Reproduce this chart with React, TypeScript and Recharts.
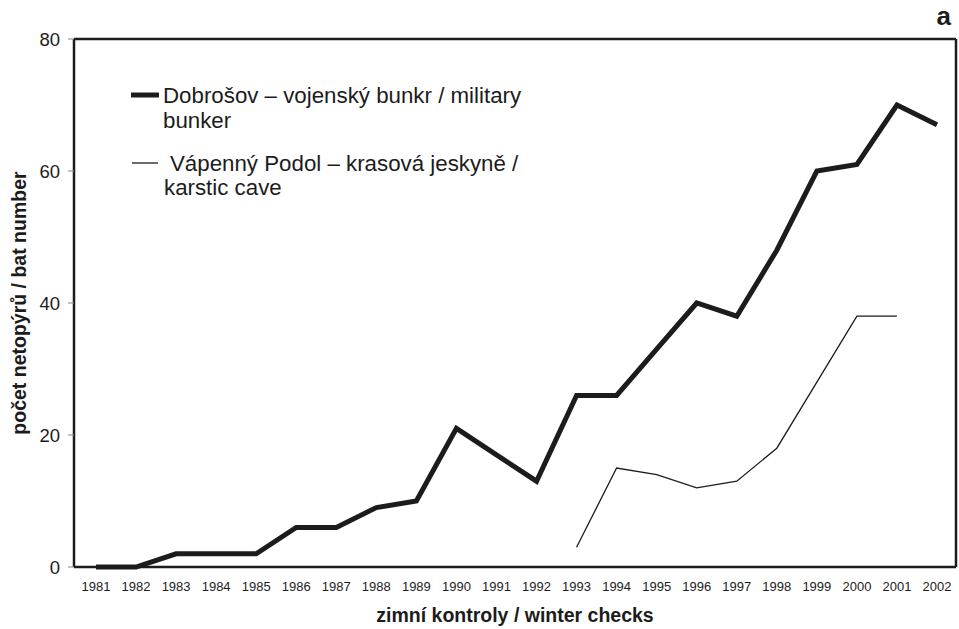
import React from 'react';
import { LineChart, Line, XAxis, YAxis } from 'recharts';

const years = ['1981','1982','1983','1984','1985','1986','1987','1988','1989','1990','1991','1992','1993','1994','1995','1996','1997','1998','1999','2000','2001','2002'];
const dobrosov = [0, 0, 2, 2, 2, 6, 6, 9, 10, 21, 17, 13, 26, 26, 33, 40, 38, 48, 60, 61, 70, 67];
const vapenny: (number | null)[] = [null, null, null, null, null, null, null, null, null, null, null, null, 3, 15, 14, 12, 13, 18, 28, 38, 38, null];
const yTicks = [0, 20, 40, 60, 80];

const data = years.map((y, i) => ({ year: y, dob: dobrosov[i], vap: vapenny[i] }));

const INK = '#1c1c1c';
const FONT = '"Liberation Sans", Arial, Helvetica, sans-serif';

export default function App() {
  return (
    <div style={{ position: 'absolute', left: 0, top: 0, width: 959, height: 629, background: '#fff', fontFamily: FONT }}>
      <LineChart width={959} height={629} data={data} margin={{ top: 38, right: 2, left: 0, bottom: 0 }} style={{ fontFamily: FONT }}>
        <XAxis
          xAxisId="b"
          dataKey="year"
          height={62}
          interval={0}
          padding={{ left: 22, right: 19 }}
          tickSize={0}
          tickLine={false}
          tickMargin={15}
          axisLine={{ stroke: INK, strokeWidth: 2.5 }}
          tick={{ fontSize: 13, fill: INK, fontFamily: FONT }}
          label={{ value: 'zimní kontroly / winter checks', position: 'insideBottom', offset: 7, style: { fontSize: 19.5, fontWeight: 'bold', fill: INK, fontFamily: FONT } }}
        />
        <XAxis xAxisId="t" dataKey="year" orientation="top" height={1} tick={false} tickLine={false} padding={{ left: 22, right: 19 }} axisLine={{ stroke: INK, strokeWidth: 2.5 }} />
        <YAxis
          yAxisId="l"
          width={74}
          domain={[0, 80]}
          ticks={yTicks}
          tickSize={6}
          tickMargin={8}
          axisLine={{ stroke: INK, strokeWidth: 2.5 }}
          tickLine={{ stroke: '#888', strokeWidth: 1 }}
          tick={{ fontSize: 18.5, fill: INK, fontFamily: FONT }}
          label={{ value: 'počet netopýrů / bat number', angle: -90, position: 'insideLeft', offset: 19, style: { textAnchor: 'middle', fontSize: 19.5, fontWeight: 'bold', fill: INK, fontFamily: FONT } }}
        />
        <YAxis yAxisId="r" orientation="right" width={1} domain={[0, 80]} ticks={yTicks} tick={false} tickLine={false} axisLine={{ stroke: INK, strokeWidth: 2.5 }} />
        <Line xAxisId="b" yAxisId="l" type="linear" dataKey="dob" stroke={INK} strokeWidth={5} dot={false} isAnimationActive={false} strokeLinejoin="miter" />
        <Line xAxisId="b" yAxisId="l" type="linear" dataKey="vap" stroke={INK} strokeWidth={1.3} dot={false} isAnimationActive={false} connectNulls={false} />
      </LineChart>
      <svg width={959} height={629} style={{ position: 'absolute', left: 0, top: 0, pointerEvents: 'none' }}>
        <text x={951} y={25} textAnchor="end" fontSize={26} fontWeight="bold" fill={INK} fontFamily={FONT}>a</text>
        <line x1={131} x2={159} y1={95} y2={95} stroke={INK} strokeWidth={5} />
        <text x={163} y={103} fontSize={22.3} fill={INK} fontFamily={FONT}>Dobrošov – vojenský bunkr / military</text>
        <text x={163} y={128} fontSize={22.3} fill={INK} fontFamily={FONT}>bunker</text>
        <line x1={132} x2={158} y1={163} y2={163} stroke={INK} strokeWidth={1.3} />
        <text x={170} y={171} fontSize={22.3} fill={INK} fontFamily={FONT}>Vápenný Podol – krasová jeskyně /</text>
        <text x={164} y={195} fontSize={22.3} fill={INK} fontFamily={FONT}>karstic cave</text>
      </svg>
    </div>
  );
}
